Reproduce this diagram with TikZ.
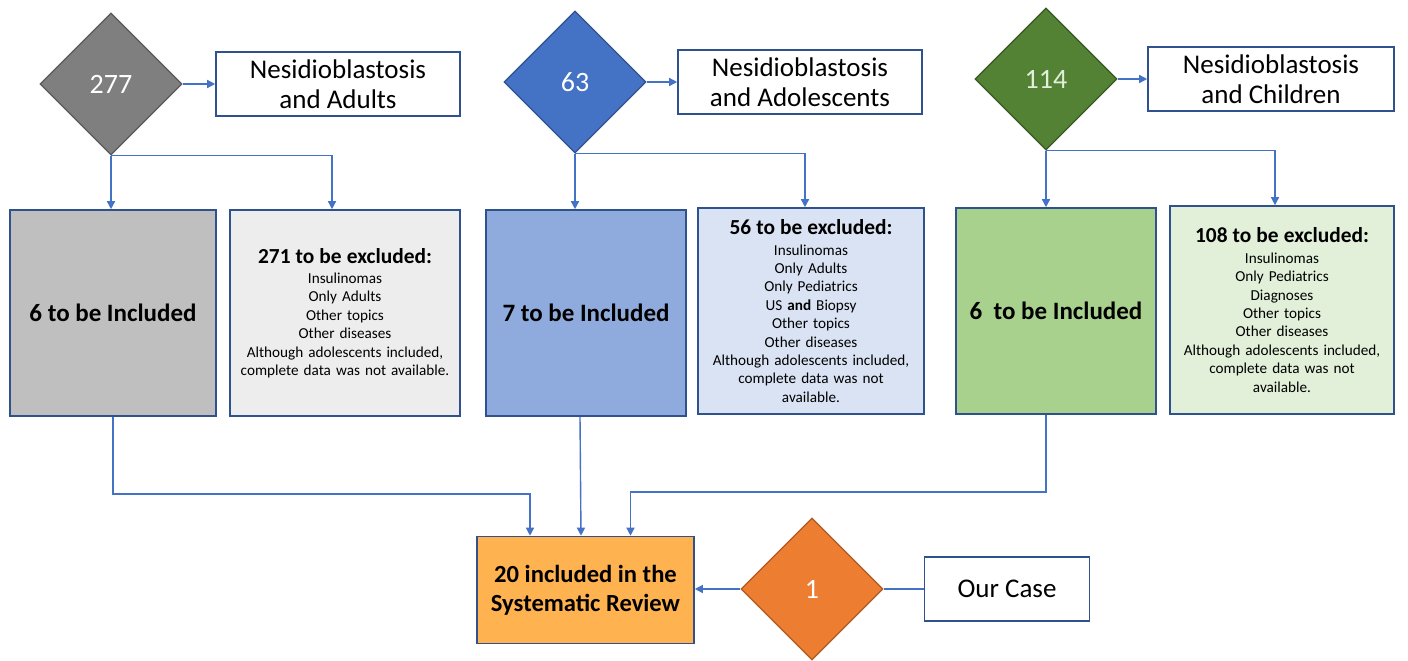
\documentclass[tikz,border=0pt]{standalone}
\usepackage{fontspec}
\setmainfont{Carlito}
\usetikzlibrary{shapes.geometric,arrows.meta}
\definecolor{lineblue}{HTML}{4472C4}
\definecolor{boxborder}{HTML}{2F528F}
\definecolor{grayD}{HTML}{7F7F7F}
\definecolor{grayDb}{HTML}{595959}
\definecolor{blueD}{HTML}{4472C4}
\definecolor{blueDb}{HTML}{2F528F}
\definecolor{greenD}{HTML}{548235}
\definecolor{greenDb}{HTML}{385723}
\definecolor{orangeD}{HTML}{ED7D31}
\definecolor{orangeDb}{HTML}{AE5A21}
\definecolor{grayI}{HTML}{BFBFBF}
\definecolor{grayE}{HTML}{EDEDED}
\definecolor{blueI}{HTML}{8FAADC}
\definecolor{blueE}{HTML}{DAE3F3}
\definecolor{greenI}{HTML}{A9D18E}
\definecolor{greenE}{HTML}{E2F0D9}
\definecolor{finalF}{HTML}{FFB350}
\definecolor{lightgreentext}{HTML}{E2F0D9}
\newcommand{\exheadfont}{\bfseries\fontsize{10.7}{13}\selectfont}
\begin{document}
\begin{tikzpicture}[x=0.5pt,y=-0.5pt,
  dia/.style={diamond, draw=#1, line width=0.6pt, minimum width=71pt, minimum height=71pt, inner sep=0pt, text=white, font=\fontsize{14}{16}\selectfont},
  titlebox/.style={draw=boxborder, fill=white, line width=0.8pt, minimum width=122pt, minimum height=32pt, inner sep=0pt, align=center, font=\fontsize{13.5}{15}\selectfont},
  inclbox/.style={draw=boxborder, line width=0.8pt, minimum width=100pt, minimum height=103pt, inner sep=0pt, align=center, font=\bfseries\fontsize{12.5}{15}\selectfont},
  exclbox/.style={draw=boxborder, line width=0.8pt, minimum width=113pt, minimum height=103pt, inner sep=0pt, text width=108pt, align=center, font=\fontsize{7.6}{9.2}\selectfont},
  conn/.style={draw=lineblue, line width=0.7pt, -{Triangle[length=4pt,width=4pt]}},
  plainline/.style={draw=lineblue, line width=0.7pt}
]
\useasboundingbox (0,0) rectangle (1408,660);

% ---- Adults column ----
\node[dia=grayDb, fill=grayD] (d1) at (111,84) {277};
\node[titlebox] (t1) at (338,84) {Nesidioblastosis\\and Adults};
\node[inclbox, fill=grayI, minimum width=103pt] (i1) at (113,313) {6 to be Included};
\node[exclbox, fill=grayE, minimum width=115pt] (e1) at (345,313)
  {{\exheadfont 271 to be excluded:}\\[1pt]Insulinomas\\Only Adults\\Other topics\\Other diseases\\Although adolescents included,\\complete data was not available.};

% ---- Adolescents column ----
\node[dia=blueDb, fill=blueD] (d2) at (575,82) {63};
\node[titlebox] (t2) at (800,82) {Nesidioblastosis\\and Adolescents};
\node[inclbox, fill=blueI] (i2) at (586,313) {7 to be Included};
\node[exclbox, fill=blueE] (e2) at (811,311)
  {{\exheadfont 56 to be excluded:}\\[1pt]Insulinomas\\Only Adults\\Only Pediatrics\\US \textbf{and} Biopsy\\Other topics\\Other diseases\\Although adolescents included,\\complete data was not\\available.};

% ---- Children column ----
\node[dia=greenDb, fill=greenD, text=lightgreentext] (d3) at (1046,79) {114};
\node[titlebox, minimum width=123pt] (t3) at (1271,79) {Nesidioblastosis\\and Children};
\node[inclbox, fill=greenI] (i3) at (1056,311) {6\ \ to be Included};
\node[exclbox, fill=greenE, minimum width=112pt, minimum height=104pt] (e3) at (1282,310)
  {{\exheadfont 108 to be excluded:}\\[1pt]Insulinomas\\Only Pediatrics\\Diagnoses\\Other topics\\Other diseases\\Although adolescents included,\\complete data was not\\available.};

% ---- Bottom ----
\node[inclbox, fill=finalF, minimum width=108.5pt, minimum height=53.5pt, font=\bfseries\fontsize{12.3}{14.5}\selectfont] (fin) at (585.5,590) {20 included in the\\Systematic Review};
\node[dia=orangeDb, fill=orangeD] (d4) at (812,589) {1};
\node[titlebox, minimum width=82.5pt] (oc) at (1007,589) {Our Case};

% ---- Connectors ----
\draw[conn] (d1.east) -- (t1.west);
\draw[conn] (d1.south) -- (d1.south |- i1.north);
\draw[conn] (d1.south) -| ([xshift=-6.5pt]e1.north);

\draw[conn] (d2.east) -- (t2.west);
\draw[conn] (d2.south) -- (d2.south |- i2.north);
\draw[conn] (d2.south) -| ([xshift=-3pt]e2.north);

\draw[conn] (d3.east) -- (t3.west);
\draw[conn] (d3.south) -- (d3.south |- i3.north);
\draw[conn] (d3.south) -| ([xshift=-3.5pt]e3.north);

\draw[conn] (i1.south) -- ++(0,77) -| ([xshift=-27.75pt]fin.north);
\draw[conn] ([xshift=-3pt]i2.south) -- ([xshift=-2.25pt]fin.north);
\draw[conn] ([xshift=-5pt]i3.south) -- ++(0,77) -| ([xshift=22.5pt]fin.north);

\draw[plainline] (oc.west) -- (d4.east);
\draw[conn] (d4.west) -- (d4.west -| fin.east);
\end{tikzpicture}
\end{document}
